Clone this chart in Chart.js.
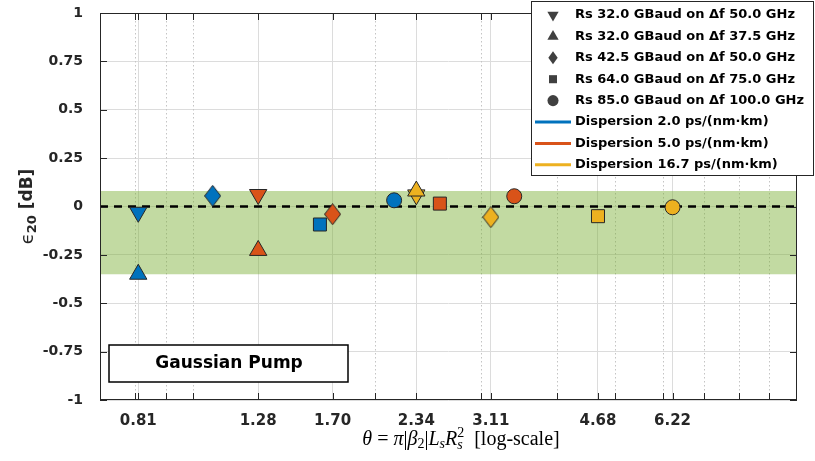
<!DOCTYPE html>
<html>
<head>
<meta charset="utf-8">
<script src="https://cdn.jsdelivr.net/npm/chart.js@4.4.1/dist/chart.umd.min.js"></script>
<style>
  html, body { margin: 0; padding: 0; background: #fff; }
  #wrap { width: 815px; height: 461px; position: relative; }
</style>
</head>
<body>
<div id="wrap"><canvas id="myScatterChart"></canvas></div>
<script>
// Scatter chart for eps20 vs theta

//////////////DATA///////////
// marker order inside each series: Rs 32/50, Rs 32/37.5, Rs 42.5, Rs 64, Rs 85
const markerShapes = ['down', 'up', 'diamond', 'square', 'circle'];

const thetaD2 = [0.81, 0.81, 1.076, 1.62, 2.15];
const epsD2 = [-0.03, -0.35, 0.055, -0.093, 0.032];

const thetaD5 = [1.28, 1.28, 1.70, 2.56, 3.40];
const epsD5 = [0.062, -0.227, -0.04, 0.015, 0.053];

const thetaD17 = [2.34, 2.34, 3.11, 4.68, 6.22];
const epsD17 = [0.06, 0.08, -0.055, -0.05, -0.004];

const bandLimits = [-0.35, 0.08];
const xRange = [0.7, 10];
const xTicks = [0.81, 1.28, 1.70, 2.34, 3.11, 4.68, 6.22];
const xMinor = [0.8, 0.9, 1, 2, 3, 4, 5, 6, 7, 8, 9];
const yTicks = [-1, -0.75, -0.5, -0.25, 0, 0.25, 0.5, 0.75, 1];

const markerLabels = [
  'Rs 32.0 GBaud on \u0394f 50.0 GHz',
  'Rs 32.0 GBaud on \u0394f 37.5 GHz',
  'Rs 42.5 GBaud on \u0394f 50.0 GHz',
  'Rs 64.0 GBaud on \u0394f 75.0 GHz',
  'Rs 85.0 GBaud on \u0394f 100.0 GHz',
];
const lineLabels = [
  'Dispersion 2.0 ps/(nm\u00b7km)',
  'Dispersion 5.0 ps/(nm\u00b7km)',
  'Dispersion 16.7 ps/(nm\u00b7km)',
];
const seriesColors = ['#0072BD', '#D95319', '#EDB120'];
//////////////DATA///////////

const sansBold = "'DejaVu Sans', 'Open Sans', sans-serif";
const serif = "'Liberation Serif', 'DejaVu Serif', serif";

// tall diamond marker as a small canvas (Chart.js rectRot is always square)
function diamondImage(color) {
  const w = 17, h = 22;
  const c = document.createElement('canvas');
  c.width = w;
  c.height = h;
  const g = c.getContext('2d');
  g.beginPath();
  g.moveTo(w / 2, 0.5);
  g.lineTo(w - 0.5, h / 2);
  g.lineTo(w / 2, h - 0.5);
  g.lineTo(0.5, h / 2);
  g.closePath();
  g.fillStyle = color;
  g.fill();
  g.strokeStyle = '#262626';
  g.lineWidth = 1;
  g.stroke();
  return c;
}

const styleOf = {
  down: { style: 'triangle', rot: 180, r: 10 },
  up: { style: 'triangle', rot: 0, r: 10 },
  diamond: { style: 'diamond', rot: 0, r: 9 },
  square: { style: 'rect', rot: 0, r: 9.2 },
  circle: { style: 'circle', rot: 0, r: 7.5 },
};

function pointsOf(xs, ys) {
  return xs.map((x, i) => ({ x: x, y: ys[i] }));
}

function seriesDataset(xs, ys, color, order) {
  const diamond = diamondImage(color);
  return {
    type: 'scatter',
    data: pointsOf(xs, ys),
    backgroundColor: color,
    borderColor: '#262626',
    borderWidth: 1,
    pointStyle: markerShapes.map(s => styleOf[s].style === 'diamond' ? diamond : styleOf[s].style),
    pointRotation: markerShapes.map(s => styleOf[s].rot),
    pointRadius: markerShapes.map(s => styleOf[s].r),
    pointHoverRadius: markerShapes.map(s => styleOf[s].r),
    order: order,
  };
}

// small marker drawing for the legend
function drawMarker(ctx, shape, x, y, r) {
  ctx.beginPath();
  if (shape === 'down' || shape === 'up') {
    const s = shape === 'down' ? -1 : 1;
    ctx.moveTo(x, y - s * r);
    ctx.lineTo(x + r * 0.866, y + s * r * 0.5);
    ctx.lineTo(x - r * 0.866, y + s * r * 0.5);
  } else if (shape === 'diamond') {
    ctx.moveTo(x, y - r);
    ctx.lineTo(x + r * 0.72, y);
    ctx.lineTo(x, y + r);
    ctx.lineTo(x - r * 0.72, y);
  } else if (shape === 'square') {
    ctx.rect(x - r * 0.62, y - r * 0.62, r * 1.24, r * 1.24);
  } else {
    ctx.arc(x, y, r * 0.85, 0, Math.PI * 2);
  }
  ctx.closePath();
  ctx.fill();
}

function drawRuns(ctx, runs, cx, cy) {
  let total = 0;
  let prevW = 0;
  runs.forEach(r => {
    ctx.font = r.font;
    r.w = ctx.measureText(r.t).width;
    r.adv = r.back ? Math.max(0, r.w - prevW) : r.w;
    prevW = r.w;
    total += r.adv;
  });
  let x = cx - total / 2;
  let lastStart = x;
  ctx.textBaseline = 'middle';
  ctx.textAlign = 'left';
  runs.forEach(r => {
    ctx.font = r.font;
    const sx = r.back ? lastStart : x;
    ctx.fillText(r.t, sx, cy + (r.dy || 0));
    if (!r.back) lastStart = x;
    x += r.adv;
  });
}

const matlabAxes = {
  id: 'matlabAxes',
  beforeDatasetsDraw(chart) {
    const ctx = chart.ctx;
    const a = chart.chartArea;
    const xs = chart.scales.x;
    ctx.save();
    ctx.strokeStyle = '#c4c4c4';
    ctx.lineWidth = 1;
    ctx.setLineDash([1.5, 2.5]);
    xMinor.forEach(v => {
      const px = Math.round(xs.getPixelForValue(v)) + 0.5;
      ctx.beginPath();
      ctx.moveTo(px, a.top);
      ctx.lineTo(px, a.bottom);
      ctx.stroke();
    });
    ctx.restore();
  },
  afterDatasetsDraw(chart) {
    const ctx = chart.ctx;
    const a = chart.chartArea;
    const xs = chart.scales.x;
    const ys = chart.scales.y;
    const tl = 7;
    ctx.save();
    ctx.strokeStyle = '#262626';
    ctx.lineWidth = 1;
    ctx.strokeRect(a.left + 0.5, a.top + 0.5, a.right - a.left - 1, a.bottom - a.top - 1);
    ctx.beginPath();
    xTicks.concat(xMinor).forEach(v => {
      const px = Math.round(xs.getPixelForValue(v)) + 0.5;
      ctx.moveTo(px, a.bottom);
      ctx.lineTo(px, a.bottom - tl);
      ctx.moveTo(px, a.top);
      ctx.lineTo(px, a.top + tl);
    });
    yTicks.forEach(v => {
      const py = Math.round(ys.getPixelForValue(v)) + 0.5;
      ctx.moveTo(a.left, py);
      ctx.lineTo(a.left + tl, py);
      ctx.moveTo(a.right, py);
      ctx.lineTo(a.right - tl, py);
    });
    ctx.stroke();
    ctx.restore();
  },
  afterDraw(chart) {
    const ctx = chart.ctx;
    const a = chart.chartArea;
    ctx.save();
    ctx.fillStyle = '#000';

    // x title
    const it = `italic 20px ${serif}`;
    const rm = `20px ${serif}`;
    drawRuns(ctx, [
      { t: '\u03b8', font: it },
      { t: ' = ', font: rm },
      { t: '\u03c0', font: it },
      { t: '|', font: rm },
      { t: '\u03b2', font: it },
      { t: '2', font: `14px ${serif}`, dy: 4 },
      { t: '|', font: rm },
      { t: 'L', font: it },
      { t: 's', font: `italic 14px ${serif}`, dy: 4 },
      { t: 'R', font: it },
      { t: 's', font: `italic 14px ${serif}`, dy: 5 },
      { t: '2', font: `14px ${serif}`, dy: -7, back: true },
      { t: '  [log-scale]', font: rm },
    ], 461, 440);

    // y title
    ctx.save();
    ctx.translate(28, (a.top + a.bottom) / 2);
    ctx.rotate(-Math.PI / 2);
    ctx.fillStyle = '#262626';
    drawRuns(ctx, [
      { t: '\u03f5', font: `18px 'DejaVu Sans', sans-serif` },
      { t: '20', font: `bold 13px ${sansBold}`, dy: 5 },
      { t: ' [dB]', font: `bold 17px ${sansBold}` },
    ], 0, 0);
    ctx.restore();

    // Gaussian Pump box
    ctx.fillStyle = '#fff';
    ctx.fillRect(109, 345, 239, 37);
    ctx.strokeStyle = '#000';
    ctx.lineWidth = 1.5;
    ctx.strokeRect(109, 345, 239, 37);
    ctx.fillStyle = '#000';
    ctx.font = `bold 17px ${sansBold}`;
    ctx.textAlign = 'center';
    ctx.textBaseline = 'middle';
    ctx.fillText('Gaussian Pump', 229, 364);

    // legend
    ctx.fillStyle = '#fff';
    ctx.fillRect(531, 1, 282, 174);
    ctx.strokeStyle = '#262626';
    ctx.lineWidth = 1;
    ctx.strokeRect(531.5, 1.5, 282, 174);
    ctx.font = `bold 13px ${sansBold}`;
    ctx.textAlign = 'left';
    ctx.textBaseline = 'middle';
    const rowH = 21.4;
    markerLabels.forEach((lab, i) => {
      const y = 15 + i * rowH;
      ctx.fillStyle = '#404040';
      drawMarker(ctx, markerShapes[i], 553, y, 6.5);
      ctx.fillStyle = '#000';
      ctx.fillText(lab, 575, y);
    });
    lineLabels.forEach((lab, i) => {
      const y = 15 + (i + 5) * rowH;
      ctx.strokeStyle = seriesColors[i];
      ctx.lineWidth = 3;
      ctx.beginPath();
      ctx.moveTo(535, y);
      ctx.lineTo(571, y);
      ctx.stroke();
      ctx.fillStyle = '#000';
      ctx.fillText(lab, 575, y);
    });
    ctx.restore();
  }
};

const scatterCanvas = document.getElementById('myScatterChart');

const chartData = {
  datasets: [
    {
      type: 'line',
      data: [{ x: xRange[0], y: bandLimits[1] }, { x: xRange[1], y: bandLimits[1] }],
      borderWidth: 0,
      pointRadius: 0,
      backgroundColor: 'rgba(119, 172, 48, 0.45)',
      fill: '+1',
      order: 12,
    },
    {
      type: 'line',
      data: [{ x: xRange[0], y: bandLimits[0] }, { x: xRange[1], y: bandLimits[0] }],
      borderWidth: 0,
      pointRadius: 0,
      fill: false,
      order: 11,
    },
    {
      type: 'line',
      data: [{ x: xRange[0], y: 0 }, { x: xRange[1], y: 0 }],
      borderColor: '#000',
      borderWidth: 2.5,
      borderDash: [8, 6],
      pointRadius: 0,
      fill: false,
      order: 10,
    },
    seriesDataset(thetaD2, epsD2, seriesColors[0], 3),
    seriesDataset(thetaD5, epsD5, seriesColors[1], 2),
    seriesDataset(thetaD17, epsD17, seriesColors[2], 1),
  ]
};

const config = {
  type: 'scatter',
  data: chartData,
  options: {
    responsive: false,
    animation: false,
    layout: { padding: { left: 0, top: 13, right: 18, bottom: 0 } },
    plugins: {
      legend: { display: false },
      tooltip: { enabled: false },
    },
    scales: {
      x: {
        type: 'logarithmic',
        min: xRange[0],
        max: xRange[1],
        afterBuildTicks: (scale) => { scale.ticks = xTicks.map(v => ({ value: v })); },
        afterFit: (scale) => {
          scale.height = 61;
          scale.paddingLeft = 0;
          scale.paddingRight = 0;
        },
        ticks: {
          autoSkip: false,
          maxRotation: 0,
          padding: 12,
          color: '#262626',
          font: { family: sansBold, size: 15, weight: 'bold' },
          callback: (v) => Number(v).toFixed(2),
        },
        grid: { color: '#dcdcdc', drawTicks: false },
        border: { display: false },
      },
      y: {
        min: -1,
        max: 1,
        afterBuildTicks: (scale) => { scale.ticks = yTicks.map(v => ({ value: v })); },
        afterFit: (scale) => {
          scale.width = 100;
          scale.paddingTop = 0;
          scale.paddingBottom = 0;
        },
        ticks: {
          padding: 17,
          color: '#262626',
          font: { family: sansBold, size: 14, weight: 'bold' },
          callback: (v) => String(v),
        },
        grid: { color: '#dcdcdc', drawTicks: false },
        border: { display: false },
      },
    }
  },
  plugins: [matlabAxes],
};

scatterCanvas.width = 815;
scatterCanvas.height = 461;
const myChart = new Chart(scatterCanvas, config);
</script>
</body>
</html>
